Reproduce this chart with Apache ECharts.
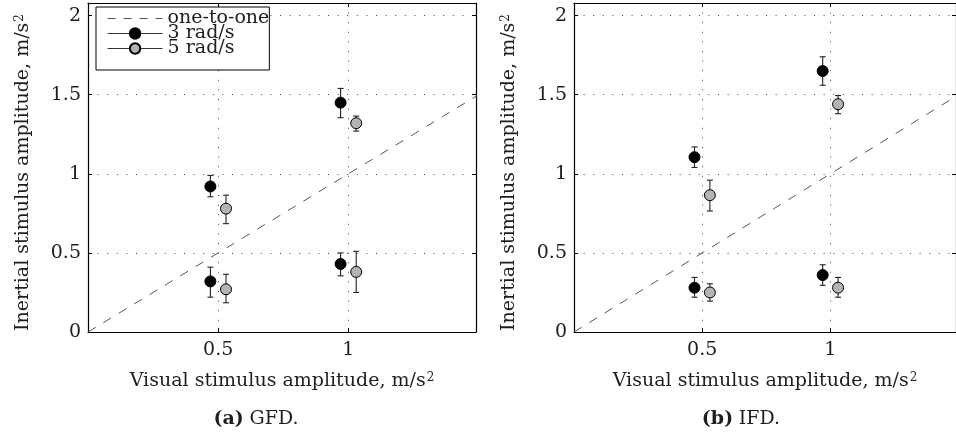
<!DOCTYPE html>
<html>
<head>
<meta charset="utf-8">
<script src="https://cdn.jsdelivr.net/npm/echarts@6/dist/echarts.min.js"></script>
<style>html,body{margin:0;padding:0;background:#fff}#c{width:956px;height:435px}</style>
</head>
<body>
<div id="c"></div>
<script>
// ---- data ----
const xTicks = [0.5, 1];
const yTicks = [0, 0.5, 1, 1.5, 2];
const x3 = [0.47, 0.47, 0.97, 0.97];
const x5 = [0.53, 0.53, 1.03, 1.03];
// GFD
const gfdY3 = [0.92, 0.32, 1.45, 0.43];
const gfdLo3 = [0.855, 0.22, 1.355, 0.355];
const gfdHi3 = [0.99, 0.41, 1.54, 0.50];
const gfdY5 = [0.78, 0.27, 1.32, 0.38];
const gfdLo5 = [0.685, 0.185, 1.27, 0.25];
const gfdHi5 = [0.865, 0.365, 1.365, 0.51];
// IFD
const ifdY3 = [1.105, 0.28, 1.65, 0.36];
const ifdLo3 = [1.04, 0.22, 1.56, 0.295];
const ifdHi3 = [1.17, 0.345, 1.74, 0.425];
const ifdY5 = [0.865, 0.25, 1.44, 0.28];
const ifdLo5 = [0.765, 0.195, 1.38, 0.22];
const ifdHi5 = [0.96, 0.305, 1.495, 0.345];
const oneToOne = [[0, 0], [1.5, 1.5]];
const names = ['one-to-one', '3 rad/s', '5 rad/s'];
const captions = [['(a)', 'GFD.'], ['(b)', 'IFD.']];
const xName = 'Visual stimulus amplitude, m/s';
const yName = 'Inertial stimulus amplitude, m/s';

// ---- build ----
const FONT = 'DejaVu Serif';
const FS = 19;
const TXT = '#1e1e1e';
const pts = (xs, ys) => xs.map((x, i) => [x, ys[i]]);
const errs = (xs, lo, hi) => xs.map((x, i) => [x, lo[i], hi[i]]);

const panels = [
  {left: 88, g: [gfdY3, gfdLo3, gfdHi3, gfdY5, gfdLo5, gfdHi5]},
  {left: 574, g: [ifdY3, ifdLo3, ifdHi3, ifdY5, ifdLo5, ifdHi5]}
];
const grids = [], xAxes = [], yAxes = [], series = [];
const supRich = {sup: {fontSize: 12, fontFamily: FONT, color: TXT, verticalAlign: 'top', lineHeight: 13, padding: [0, 0, 9, 1]}};
panels.forEach((p, k) => {
  grids.push({left: p.left, top: 3, width: 388, height: 329, containLabel: false});
  const xBase = {gridIndex: k, type: 'value', min: 0, max: 1.49, interval: 0.5,
    axisLine: {show: true, onZero: false, lineStyle: {color: '#000', width: 1.2}},
    axisTick: {show: true, inside: true, length: 4, lineStyle: {color: '#000'}},
    splitLine: {show: false}};
  xAxes.push(Object.assign({}, xBase, {position: 'bottom',
    axisLabel: {show: true, fontFamily: FONT, fontSize: FS, color: TXT, margin: 9, showMinLabel: false, showMaxLabel: false,
      formatter: v => xTicks.includes(v) ? String(v) : ''},
    splitLine: {show: true, lineStyle: {color: '#444', type: [1, 8.6], width: 1}},
    name: '{n|' + xName + '}{sup|2}', nameLocation: 'middle', nameGap: 40,
    nameTextStyle: {rich: Object.assign({n: {fontFamily: FONT, fontSize: FS, color: TXT}}, supRich)}}));
  xAxes.push(Object.assign({}, xBase, {position: 'top', axisLabel: {show: false}}));
  const yBase = {gridIndex: k, type: 'value', min: 0, max: 2.08, interval: 0.5,
    axisLine: {show: true, onZero: false, lineStyle: {color: '#000', width: 1.2}},
    axisTick: {show: true, inside: true, length: 4, lineStyle: {color: '#000'}},
    splitLine: {show: false}};
  yAxes.push(Object.assign({}, yBase, {position: 'left',
    axisLabel: {show: true, fontFamily: FONT, fontSize: FS, color: TXT, margin: 7, showMaxLabel: false,
      formatter: v => yTicks.includes(v) ? String(v) : ''},
    splitLine: {show: true, lineStyle: {color: '#444', type: [1, 8.6], width: 1}},
    name: '{n|' + yName + '}{sup|2}', nameLocation: 'middle', nameGap: 55, nameRotate: 90,
    nameTextStyle: {padding: [0, 10, 0, 0], rich: Object.assign({n: {fontFamily: FONT, fontSize: FS, color: TXT}}, supRich)}}));
  yAxes.push(Object.assign({}, yBase, {position: 'right', axisLabel: {show: false}}));

  const xi = k * 2, yi = k * 2;
  series.push({name: names[0], type: 'line', xAxisIndex: xi, yAxisIndex: yi, data: oneToOne,
    symbol: 'none', clip: true, silent: true,
    lineStyle: {color: '#555', width: 1, type: [9, 9]}, itemStyle: {color: 'rgba(0,0,0,0)'}, z: 2});
  const errRender = (params, api) => {
    const x = api.value(0), lo = api.value(1), hi = api.value(2);
    const a = api.coord([x, lo]), b = api.coord([x, hi]);
    const st = {stroke: '#222', lineWidth: 1.1};
    return {type: 'group', children: [
      {type: 'line', shape: {x1: a[0], y1: a[1], x2: b[0], y2: b[1]}, style: st},
      {type: 'line', shape: {x1: a[0] - 3, y1: a[1], x2: a[0] + 3, y2: a[1]}, style: st},
      {type: 'line', shape: {x1: b[0] - 3, y1: b[1], x2: b[0] + 3, y2: b[1]}, style: st}
    ]};
  };
  series.push({type: 'custom', name: 'err3', xAxisIndex: xi, yAxisIndex: yi, renderItem: errRender,
    data: errs(x3, p.g[1], p.g[2]), encode: {x: 0, y: [1, 2]}, z: 3, silent: true});
  series.push({type: 'custom', name: 'err5', xAxisIndex: xi, yAxisIndex: yi, renderItem: errRender,
    data: errs(x5, p.g[4], p.g[5]), encode: {x: 0, y: [1, 2]}, z: 3, silent: true});
  series.push({name: names[1], type: 'line', xAxisIndex: xi, yAxisIndex: yi, data: pts(x3, p.g[0]),
    symbol: 'circle', symbolSize: 11, showAllSymbol: true,
    lineStyle: {opacity: 0}, itemStyle: {color: '#000', borderColor: '#000', borderWidth: 1}, z: 5});
  series.push({name: names[2], type: 'line', xAxisIndex: xi, yAxisIndex: yi, data: pts(x5, p.g[3]),
    symbol: 'circle', symbolSize: 11, showAllSymbol: true,
    lineStyle: {opacity: 0}, itemStyle: {color: '#b3b3b3', borderColor: '#000', borderWidth: 1}, z: 5});
});

const option = {
  animation: false,
  backgroundColor: '#fff',
  textStyle: {fontFamily: FONT},
  grid: grids, xAxis: xAxes, yAxis: yAxes, series: series,
  legend: {
    left: 96, top: 7, orient: 'vertical', itemGap: -4, itemWidth: 55, itemHeight: 13,
    padding: [2, 0, 12, 11], borderColor: '#000', borderWidth: 1, backgroundColor: '#fff',
    selectedMode: false,
    textStyle: {fontFamily: FONT, fontSize: FS, color: TXT},
    data: [
      {name: names[0], itemStyle: {color: 'rgba(0,0,0,0)', borderColor: 'rgba(0,0,0,0)', borderWidth: 0, opacity: 0},
        lineStyle: {color: '#555', width: 1, type: [8, 8], opacity: 1}},
      {name: names[1], lineStyle: {color: '#333', width: 1.2, opacity: 1, type: 'solid'}},
      {name: names[2], lineStyle: {color: '#333', width: 1.2, opacity: 1, type: 'solid'}}
    ]
  },
  title: captions.map((c, i) => ({
    text: '{b|' + c[0] + '} {r|' + c[1] + '}',
    left: i === 0 ? 251 : 736, top: 405, textAlign: 'center',
    textStyle: {fontWeight: 'normal', rich: {b: {fontFamily: FONT, fontSize: FS, fontWeight: 'bold', color: TXT},
      r: {fontFamily: FONT, fontSize: FS, fontWeight: 'normal', color: TXT}}}
  }))
};
const chart = echarts.init(document.getElementById('c'), null, {renderer: 'canvas'});
chart.setOption(option);
</script>
</body>
</html>
